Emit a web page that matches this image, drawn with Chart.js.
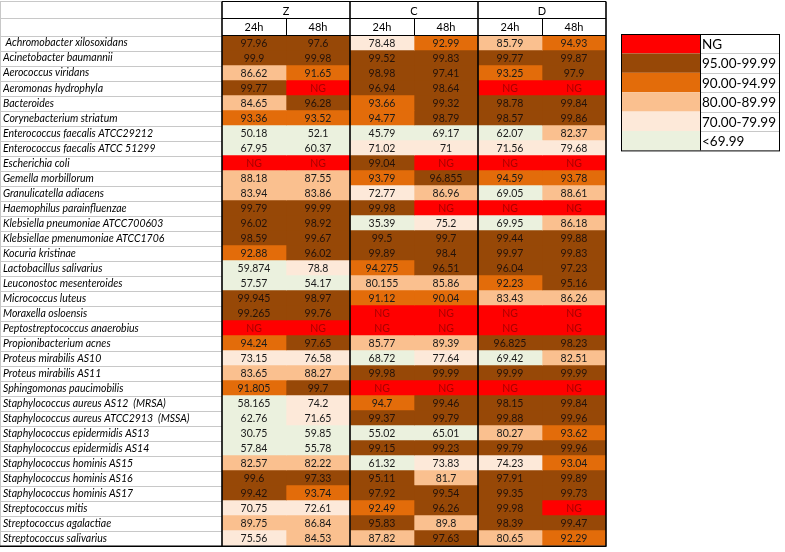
<!DOCTYPE html>
<html>
<head>
<meta charset="utf-8">
<script src="https://cdn.jsdelivr.net/npm/chart.js@4.4.1/dist/chart.umd.min.js"></script>
<style>
  html, body { margin: 0; padding: 0; background: #fff; }
  #wrap { width: 785px; height: 552px; position: relative; }
</style>
</head>
<body>
<div id="wrap"><canvas id="heatChart"></canvas></div>
<script>
// organisms (rows) and the six columns, null = NG (no growth)
const organisms = [
  ' Achromobacter xilosoxidans', 'Acinetobacter baumannii', 'Aerococcus viridans',
  'Aeromonas hydrophyla', 'Bacteroides', 'Corynebacterium striatum',
  'Enterococcus faecalis ATCC29212', 'Enterococcus faecalis ATCC 51299', 'Escherichia coli',
  'Gemella morbillorum', 'Granulicatella adiacens', 'Haemophilus parainfluenzae',
  'Klebsiella pneumoniae ATCC700603', 'Klebsiellae pmenumoniae ATCC1706', 'Kocuria kristinae',
  'Lactobacillus salivarius', 'Leuconostoc mesenteroides', 'Micrococcus luteus',
  'Moraxella osloensis', 'Peptostreptococcus anaerobius', 'Propionibacterium acnes',
  'Proteus mirabilis AS10', 'Proteus mirabilis AS11', 'Sphingomonas paucimobilis',
  'Staphylococcus aureus AS12  (MRSA)', 'Staphylococcus aureus ATCC2913  (MSSA)',
  'Staphylococcus epidermidis AS13', 'Staphylococcus epidermidis AS14',
  'Staphylococcus hominis AS15', 'Staphylococcus hominis AS16', 'Staphylococcus hominis AS17',
  'Streptococcus mitis', 'Streptococcus agalactiae', 'Streptococcus salivarius'
];
const groups = ['Z', 'C', 'D'];
const times = ['24h', '48h'];

const z24 = ['97.96','99.9','86.62','99.77','84.65','93.36','50.18','67.95',null,'88.18','83.94','99.79','96.02','98.59','92.88','59.874','57.57','99.945','99.265',null,'94.24','73.15','83.65','91.805','58.165','62.76','30.75','57.84','82.57','99.6','99.42','70.75','89.75','75.56'];
const z48 = ['97.6','99.98','91.65',null,'96.28','93.52','52.1','60.37',null,'87.55','83.86','99.99','98.92','99.67','96.02','78.8','54.17','98.97','99.76',null,'97.65','76.58','88.27','99.7','74.2','71.65','59.85','55.78','82.22','97.33','93.74','72.61','86.84','84.53'];
const c24 = ['78.48','99.52','98.98','96.94','93.66','94.77','45.79','71.02','99.04','93.79','72.77','99.98','35.39','99.5','99.89','94.275','80.155','91.12',null,null,'85.77','68.72','99.98',null,'94.7','99.37','55.02','99.15','61.32','95.11','97.92','92.49','95.83','87.82'];
const c48 = ['92.99','99.83','97.41','98.64','99.32','98.79','69.17','71',null,'96.855','86.96',null,'75.2','99.7','98.4','96.51','85.86','90.04',null,null,'89.39','77.64','99.99',null,'99.46','99.79','65.01','99.23','73.83','81.7','99.54','96.26','89.8','97.63'];
const d24 = ['85.79','99.77','93.25',null,'98.78','98.57','62.07','71.56',null,'94.59','69.05',null,'69.95','99.44','99.97','96.04','92.23','83.43',null,null,'96.825','69.42','99.99',null,'98.15','99.88','80.27','99.79','74.23','97.91','99.35','99.98','98.39','80.65'];
const d48 = ['94.93','99.87','97.9',null,'99.84','99.86','82.37','79.68',null,'93.78','88.61',null,'86.18','99.88','99.83','97.23','95.16','86.26',null,null,'98.23','82.51','99.99',null,'99.84','99.96','93.62','99.96','93.04','99.89','99.73',null,'99.47','92.29'];
const columns = [z24, z48, c24, c48, d24, d48];

const legendLabels = ['NG', '95.00-99.99', '90.00-94.99', '80.00-89.99', '70.00-79.99', '<69.99'];
const legendColors = ['#ff0000', '#974807', '#e36c0a', '#fac08f', '#fde9d9', '#ebf1de'];

function colorFor(v) {
  if (v === null) return legendColors[0];
  const n = parseFloat(v);
  if (n >= 95) return legendColors[1];
  if (n >= 90) return legendColors[2];
  if (n >= 80) return legendColors[3];
  if (n >= 70) return legendColors[4];
  return legendColors[5];
}

const datasets = columns.map((col, c) => ({
  label: groups[Math.floor(c / 2)] + ' ' + times[c % 2],
  data: organisms.map(() => [c, c + 1]),
  backgroundColor: col.map(colorFor),
  borderWidth: 0,
  barPercentage: 1,
  categoryPercentage: 1,
  grouped: false
}));

const FONT = 'Lato';

// cell values, header and table borders
const tablePlugin = {
  id: 'tablePlugin',
  afterDatasetsDraw(chart) {
    const ctx = chart.ctx;
    const xs = chart.scales.x;
    const top = chart.chartArea.top, bottom = chart.chartArea.bottom;
    const rowH = (bottom - top) / organisms.length;
    ctx.save();

    // cell texts
    ctx.textAlign = 'center';
    ctx.textBaseline = 'middle';
    ctx.font = '10.5px ' + FONT;
    columns.forEach((col, c) => {
      const meta = chart.getDatasetMeta(c);
      meta.data.forEach((bar, i) => {
        const v = col[i];
        const cx = (bar.x + bar.base) / 2;
        ctx.fillStyle = v === null ? '#a80000' : (parseFloat(v) >= 95 ? '#24120a' : '#1a1a1a');
        ctx.fillText(v === null ? 'NG' : v, cx, bar.y + 0.5);
      });
    });

    // label column grid
    ctx.strokeStyle = '#c8c8c8';
    ctx.lineWidth = 1;
    const left = 0.5;
    for (let i = 0; i <= organisms.length; i++) {
      const y = Math.round(top + i * rowH) + 0.5;
      ctx.beginPath(); ctx.moveTo(left, y); ctx.lineTo(xs.left, y); ctx.stroke();
    }
    [1.5, 18.5].forEach(y => {
      ctx.beginPath(); ctx.moveTo(left, y); ctx.lineTo(xs.left, y); ctx.stroke();
    });
    ctx.beginPath(); ctx.moveTo(left, 1); ctx.lineTo(left, bottom); ctx.stroke();

    // header
    const hTop = 1.5, hMid = 18.5;
    ctx.strokeStyle = '#000';
    ctx.lineWidth = 1;
    [hTop, hMid, Math.round(top) - 0.5].forEach(y => {
      ctx.beginPath(); ctx.moveTo(xs.left, y); ctx.lineTo(xs.right, y); ctx.stroke();
    });
    ctx.font = '11px ' + FONT;
    ctx.fillStyle = '#000';
    groups.forEach((g, k) => {
      ctx.fillText(g, xs.getPixelForValue(2 * k + 1), (hTop + hMid) / 2 + 1);
    });
    for (let c = 0; c < 6; c++) {
      ctx.fillText(times[c % 2], xs.getPixelForValue(c + 0.5), (hMid + top) / 2 + 0.5);
      if (c % 2 === 1) continue;
      const x = Math.round(xs.getPixelForValue(c + 1)) + 0.5;
      ctx.beginPath(); ctx.moveTo(x, hMid); ctx.lineTo(x, top); ctx.stroke();
    }
    // thick group separators
    ctx.lineWidth = 1.6;
    [0, 2, 4, 6].forEach(c => {
      const x = Math.round(xs.getPixelForValue(c));
      ctx.beginPath(); ctx.moveTo(x, hTop); ctx.lineTo(x, bottom + 1); ctx.stroke();
    });
    ctx.beginPath(); ctx.moveTo(0, bottom + 0.5); ctx.lineTo(xs.right, bottom + 0.5); ctx.stroke();

    // legend table
    const lx = 621, lw1 = 79, lw2 = 79, ly = 34, lh = 19.4;
    ctx.textAlign = 'left';
    ctx.font = '13.5px ' + FONT;
    legendLabels.forEach((lab, i) => {
      const y = ly + i * lh;
      ctx.fillStyle = legendColors[i];
      ctx.fillRect(lx, y, lw1, lh);
      ctx.fillStyle = '#000';
      ctx.fillText(lab, lx + lw1 + 2, y + lh / 2 + 1);
    });
    ctx.strokeStyle = '#000';
    ctx.lineWidth = 1;
    ctx.strokeRect(lx + 0.5, ly + 0.5, lw1 + lw2, lh * legendLabels.length);
    ctx.beginPath(); ctx.moveTo(lx + lw1 + 0.5, ly); ctx.lineTo(lx + lw1 + 0.5, ly + lh * legendLabels.length); ctx.stroke();
    ctx.strokeStyle = '#c8c8c8';
    for (let i = 1; i < legendLabels.length; i++) {
      const y = Math.round(ly + i * lh) + 0.5;
      ctx.beginPath(); ctx.moveTo(lx + lw1 + 1, y); ctx.lineTo(lx + lw1 + lw2, y); ctx.stroke();
    }
    ctx.restore();
  }
};

new Chart(document.getElementById('heatChart'), {
  type: 'bar',
  data: { labels: organisms, datasets: datasets },
  options: {
    indexAxis: 'y',
    responsive: true,
    maintainAspectRatio: false,
    animation: false,
    layout: { padding: { left: 3, right: 179, top: 35.6, bottom: 2 } },
    plugins: {
      legend: { display: false },
      tooltip: { enabled: false }
    },
    scales: {
      x: { type: 'linear', min: 0, max: 6, display: false },
      y: {
        type: 'category',
        offset: true,
        grid: { display: false },
        border: { display: false },
        afterFit: (s) => { s.width = 219; },
        ticks: {
          crossAlign: 'far',
          padding: 0,
          autoSkip: false,
          color: '#000',
          font: { family: FONT, size: 10.5, style: 'italic' }
        }
      }
    }
  },
  plugins: [tablePlugin]
});
</script>
</body>
</html>
